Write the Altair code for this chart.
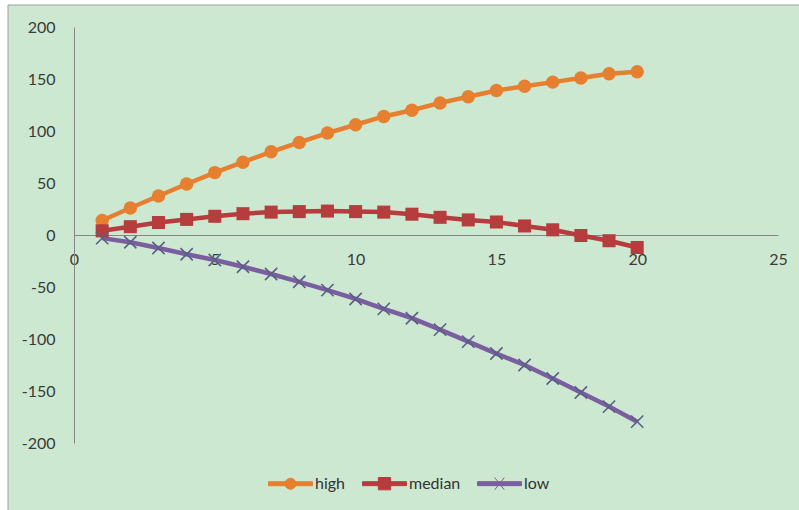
import altair as alt
import pandas as pd

# Series values at x = 1..20
x_vals = list(range(1, 21))
high = [14, 26, 37.5, 49, 60, 70, 80, 89, 98, 106, 114, 120, 127, 133, 139, 143, 147, 151, 155, 157]
median = [4, 8, 12, 15, 18, 20.5, 22, 22.5, 23, 22.5, 22, 20, 17, 14.5, 12.5, 8.7, 5, -0.5, -5.5, -12]
low = [-3, -7, -12.5, -18.5, -24, -30.5, -37.5, -45, -53, -61.5, -71, -80, -91, -102.5, -114, -125, -138, -151.5, -165, -179.5]

series_names = ["high", "median", "low"]
series_colors = ["#E67F2F", "#B63D3D", "#7B5EA0"]
x_ticks = [0, 5, 10, 15, 20, 25]
y_ticks = [-200, -150, -100, -50, 0, 50, 100, 150, 200]

rows = []
for name, vals in zip(series_names, [high, median, low]):
    for xv, yv in zip(x_vals, vals):
        rows.append({"x": xv, "value": yv, "series": name})
df = pd.DataFrame(rows)

FONT = "Lato"
W, H = 704, 416

x_enc = alt.X("x:Q",
              scale=alt.Scale(domain=[0, 25], nice=False),
              axis=alt.Axis(values=x_ticks, orient="bottom", offset=-H / 2,
                            title=None, grid=False, ticks=False,
                            domainColor="#868686", domainWidth=1,
                            labelPadding=16, labelFontSize=16, labelFont=FONT,
                            labelColor="#3A3A3A", labelFlush=False,
                            labelExpr="'' + datum.value"))
y_enc = alt.Y("value:Q",
              scale=alt.Scale(domain=[-200, 200], nice=False),
              axis=alt.Axis(values=y_ticks, title=None, grid=False, ticks=False,
                            domainColor="#868686", domainWidth=1,
                            labelPadding=19, labelFontSize=16, labelFont=FONT,
                            labelColor="#3A3A3A", labelFlush=False,
                            labelExpr="'' + datum.value"))

base = alt.Chart(df)
one = alt.Data(values=[{}])

# white margin strips and the grey frame of the chart area
strip_left = alt.Chart(one).mark_rect(fill="white").encode(
    x=alt.value(-80), x2=alt.value(-66), y=alt.value(-30), y2=alt.value(520))
strip_top = alt.Chart(one).mark_rect(fill="white").encode(
    x=alt.value(-80), x2=alt.value(760), y=alt.value(-30), y2=alt.value(-22))
frame = alt.Chart(one).mark_rect(fill=None, stroke="#A0A0A0", strokeWidth=1).encode(
    x=alt.value(-66), x2=alt.value(760), y=alt.value(-22), y2=alt.value(520))


def series_line(name, col):
    return base.transform_filter(alt.datum.series == name).mark_line(
        strokeWidth=4.5, color=col).encode(x=x_enc, y=y_enc)


line_layers = [series_line(n, c) for n, c in zip(series_names, series_colors)]

pts_high = base.transform_filter(alt.datum.series == "high").mark_point(
    shape="circle", filled=True, size=180, opacity=1, color=series_colors[0]
).encode(x=x_enc, y=y_enc)

pts_median = base.transform_filter(alt.datum.series == "median").mark_point(
    shape="square", filled=True, size=170, opacity=1, color=series_colors[1]
).encode(x=x_enc, y=y_enc)

pts_low = base.transform_filter(alt.datum.series == "low").mark_point(
    shape="M-1,-1L1,1M-1,1L1,-1", filled=False, size=150, opacity=1,
    stroke="#5B5F86", strokeWidth=1.6
).encode(x=x_enc, y=y_enc)

# legend symbols: a line segment with the series marker on it
bar = "M-1,-0.09L1,-0.09L1,0.09L-1,0.09Z"
legend_paths = [
    bar + " M-0.25,0A0.25,0.25 0 1,1 0.25,0A0.25,0.25 0 1,1 -0.25,0Z",
    bar + " M-0.28,-0.28L0.28,-0.28L0.28,0.28L-0.28,0.28Z",
    bar + " M-0.22,-0.28L0.22,0.28M-0.22,0.28L0.22,-0.28",
]


def make_legend():
    return alt.Legend(title=None, orient="none", legendX=194, legendY=434,
                      direction="horizontal", symbolSize=1936, symbolOpacity=1,
                      symbolStrokeWidth=1, labelFontSize=16, labelFont=FONT,
                      labelColor="#333333", labelOffset=2, columnPadding=14)


legend_layer = base.mark_point(filled=True, size=0, opacity=1).encode(
    x=x_enc, y=y_enc,
    shape=alt.Shape("series:N", scale=alt.Scale(domain=series_names, range=legend_paths),
                    legend=make_legend()),
    fill=alt.Fill("series:N", scale=alt.Scale(domain=series_names, range=series_colors),
                  legend=make_legend()),
    stroke=alt.Stroke("series:N", scale=alt.Scale(domain=series_names, range=series_colors),
                      legend=make_legend()),
)

chart = alt.layer(strip_left, strip_top, frame, *line_layers, pts_high, pts_median,
                  pts_low, legend_layer).properties(
    width=W, height=H,
    autosize=alt.AutoSizeParams(type="none"),
    padding={"left": 74, "top": 27, "right": 21, "bottom": 67},
    background="#CDE8D1",
).configure_view(stroke=None)

chart.save("out.html", embed_options={"renderer": "svg", "actions": False})
